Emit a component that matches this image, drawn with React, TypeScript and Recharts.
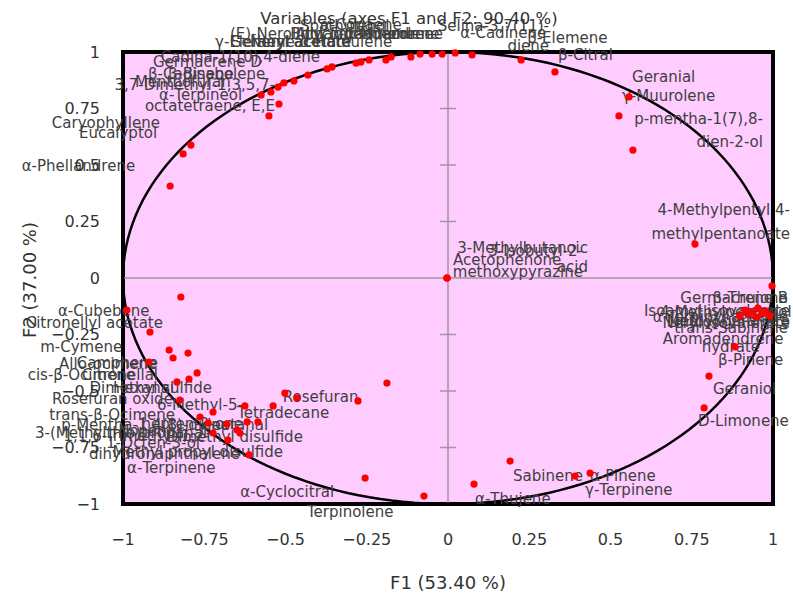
import {
  CartesianGrid,
  ReferenceArea,
  ReferenceLine,
  Scatter,
  ScatterChart,
  XAxis,
  YAxis,
} from "recharts";

// variable names, in the same order as F1 / F2 below
const VARIABLES = [
  // upper-left arc
  "α-Terpineol", "Menthofuran", "β-Cadinene", "β-Bisabolene", "Germacrene D",
  "Cadina-1(10),4-diene", "γ-Elemene", "Geranyl acetate", "Neryl acetate", "α-Humulene",
  "Spathulenol", "(E)-Nerolidol", "Bicyclogermacrene", "δ-Cadinene", "α-Muurolene",
  "Alloaromadendrene", "α-Copaene",
  // upper-right arc
  "α-Cadinene", "Selina-3,7(11)-diene", "β-Elemene", "β-Citral", "Geranial",
  "γ-Muurolene", "p-mentha-1(7),8-dien-2-ol", "4-Methylpentyl 4-methylpentanoate",
  // origin
  "3-Methylbutanoic acid", "Acetophenone", "3-Isobutyl-2-methoxypyrazine",
  // right
  "Germacrene B", "β-Thujone", "4-Methylpentanol", "Isoamyl isovalerate", "Linalool",
  "Neryl isovalerate", "Methyl geranate", "α-Terpinyl acetate", "Aromadendrene",
  "trans-Sabinene hydrate", "β-Pinene", "Geraniol", "D-Limonene",
  // left, upper
  "Caryophyllene", "Eucalyptol", "α-Phellandrene", "Germacrene A",
  "3,7-Dimethyl-1,3,5,7-octatetraene, E,E",
  // left, lower
  "Tricyclene", "α-Cubebene", "Citronellyl acetate", "m-Cymene", "Camphene",
  "Citronellal", "Allo-ocimene", "cis-β-Ocimene", "Hexanal", "Dimethyl sulfide",
  "Rosefuran oxide", "Rosefuran", "Linalool oxide", "6-Methyl-5-hepten-2-one", "Tetradecane",
  "trans-β-Ocimene", "p-Mentha-1,4(8)-diene", "Nonanal", "2-Methylbutanal", "Heptanal",
  "Dimethyl disulfide", "3-(Methylthio)propanal", "Methyl propyl disulfide", "1-Octen-3-ol",
  "1,1,6-Trimethyl-1,2-dihydronaphthalene", "α-Terpinene", "β-Damascenone", "Citronellol",
  // bottom
  "α-Cyclocitral", "Terpinolene", "Sabinene", "α-Thujene", "γ-Terpinene", "α-Pinene",
];

const F1 = [
  -0.575, -0.545, -0.523, -0.505, -0.474,
  -0.431, -0.372, -0.357, -0.283, -0.268,
  -0.243, -0.191, -0.175, -0.114, -0.086,
  -0.049, -0.018,
  0.022, 0.074, 0.225, 0.329, 0.557,
  0.526, 0.569, 0.76,
  -0.003, -0.003, -0.003,
  0.997, 0.978, 0.935, 0.954, 0.914,
  0.966, 0.991, 0.923, 0.898,
  0.948, 0.883, 0.803, 0.788,
  -0.791, -0.815, -0.855, -0.551,
  -0.52,
  -0.822, -0.988, -0.917, -0.858, -0.846,
  -0.8, -0.92, -0.772, -0.797, -0.834,
  -0.825, -0.502, -0.465, -0.625, -0.538,
  -0.723, -0.763, -0.738, -0.68, -0.618,
  -0.585, -0.649, -0.64, -0.723,
  -0.677, -0.612, -0.277, -0.188,
  -0.255, -0.074, 0.191, 0.08, 0.391, 0.437,
];

const F2 = [
  0.81, 0.823, 0.845, 0.863, 0.872,
  0.898, 0.925, 0.934, 0.951, 0.956,
  0.965, 0.965, 0.978, 0.978, 0.991,
  0.991, 0.991,
  0.996, 0.987, 0.965, 0.912, 0.801,
  0.717, 0.566, 0.15,
  0, 0, 0,
  -0.035, -0.146, -0.15, -0.133, -0.142,
  -0.159, -0.168, -0.159, -0.168,
  -0.173, -0.305, -0.434, -0.575,
  0.588, 0.549, 0.407, 0.717,
  0.77,
  -0.084, -0.142, -0.239, -0.319, -0.354,
  -0.332, -0.372, -0.42, -0.447, -0.46,
  -0.54, -0.509, -0.531, -0.566, -0.566,
  -0.593, -0.615, -0.642, -0.646, -0.637,
  -0.637, -0.673, -0.686, -0.686,
  -0.717, -0.783, -0.544, -0.465,
  -0.885, -0.965, -0.81, -0.912, -0.876, -0.863,
];

const TICKS = [-1, -0.75, -0.5, -0.25, 0, 0.25, 0.5, 0.75, 1];
const AXIS_MARKS = [-0.75, -0.5, -0.25, 0.25, 0.5, 0.75];

// label placement: [text, dx, dy (baseline), anchor] relative to the point, in px
type LabelLine = [string, number, number, "start" | "middle" | "end"];
const LABELS: Record<string, LabelLine[]> = {
  "α-Terpineol": [["α-Terpineol", -19, 5, "end"]],
  "Menthofuran": [["Menthofuran", -136, -5, "start"]],
  "β-Cadinene": [["β-Cadinene", -130, -8, "start"]],
  "β-Bisabolene": [["β-Bisabolene", -116, -4, "start"]],
  "Germacrene D": [["Germacrene D", -141, -14, "start"]],
  "Cadina-1(10),4-diene": [["Cadina-1(10),4-diene", 12, -13, "end"]],
  "γ-Elemene": [["γ-Elemene", -112, -22, "start"]],
  "Geranyl acetate": [["Geranyl acetate", -102, -20, "start"]],
  "Neryl acetate": [["Neryl acetate", -106, -16, "start"]],
  "α-Humulene": [["α-Humulene", -61, -15, "start"]],
  "Spathulenol": [["Spathulenol", -69, -29, "start"]],
  "(E)-Nerolidol": [["(E)-Nerolidol", -156, -21, "start"]],
  "Bicyclogermacrene": [["Bicyclogermacrene", -101, -18, "start"]],
  "δ-Cadinene": [["δ-Cadinene", -81, -18, "start"]],
  "α-Muurolene": [["α-Muurolene", -75, -15, "start"]],
  "Alloaromadendrene": [["Alloaromadendrene", 11, -15, "end"]],
  "α-Copaene": [["α-Copaene", -122, -24, "start"]],
  "α-Cadinene": [["α-Cadinene", 5, -15, "start"]],
  "Selina-3,7(11)-diene": [["Selina-3,7(11)-", 77, -24, "end"], ["diene", 77, -4, "end"]],
  "β-Elemene": [["β-Elemene", 6, -17, "start"]],
  "β-Citral": [["β-Citral", 3, -12, "start"]],
  "Geranial": [["Geranial", 3, -15, "start"]],
  "γ-Muurolene": [["γ-Muurolene", 3, -15, "start"]],
  "p-mentha-1(7),8-dien-2-ol": [["p-mentha-1(7),8-", 130, -26, "end"], ["dien-2-ol", 130, -3, "end"]],
  "4-Methylpentyl 4-methylpentanoate": [["4-Methylpentyl 4-", 95, -29, "end"], ["methylpentanoate", 95, -5, "end"]],
  "3-Methylbutanoic acid": [["3-Methylbutanoic", 141, -25, "end"], ["acid", 141, -6, "end"]],
  "Acetophenone": [["Acetophenone", 6, -13, "start"]],
  "3-Isobutyl-2-methoxypyrazine": [["3-Isobutyl-2-", 136, -22, "end"], ["methoxypyrazine", 136, -1, "end"]],
  "Germacrene B": [["Germacrene B", 16, 17, "end"]],
  "β-Thujone": [["β-Thujone", 22, -8, "end"]],
  "4-Methylpentanol": [["4-Methylpentanol", -92, 5, "start"]],
  "Isoamyl isovalerate": [["Isoamyl isovalerate", 32, 8, "end"]],
  "Linalool": [["Linalool", -78, 17, "start"]],
  "Neryl isovalerate": [["Neryl isovalerate", 28, 14, "end"]],
  "Methyl geranate": [["Methyl geranate", 20, 10, "end"]],
  "α-Terpinyl acetate": [["α-Terpinyl acetate", 40, 8, "end"]],
  "Aromadendrene": [["Aromadendrene", -77, 28, "start"]],
  "trans-Sabinene hydrate": [["trans-Sabinene", 32, 16, "end"], ["hydrate", 4, 35, "end"]],
  "β-Pinene": [["β-Pinene", -17, 18, "start"]],
  "Geraniol": [["Geraniol", 4, 18, "start"]],
  "D-Limonene": [["D-Limonene", -6, 18, "start"]],
  "Caryophyllene": [["Caryophyllene", -31, -17, "end"]],
  "Eucalyptol": [["Eucalyptol", -26, -16, "end"]],
  "α-Phellandrene": [["α-Phellandrene", -35, -15, "end"]],
  "3,7-Dimethyl-1,3,5,7-octatetraene, E,E": [["3,7-Dimethyl-1,3,5,7-", -4, -14, "end"], ["octatetraene, E,E", -4, 7, "end"]],
  "α-Cubebene": [["α-Cubebene", -69, 6, "start"]],
  "Citronellyl acetate": [["Citronellyl acetate", 13, -4, "end"]],
  "m-Cymene": [["m-Cymene", -47, 2, "end"]],
  "Camphene": [["Camphene", -15, 10, "end"]],
  "Citronellal": [["Citronellal", -30, 27, "end"]],
  "Allo-ocimene": [["Allo-ocimene", 8, 7, "end"]],
  "cis-β-Ocimene": [["cis-β-Ocimene", -62, 7, "end"]],
  "Hexanal": [["Hexanal", -76, 14, "start"]],
  "Dimethyl sulfide": [["Dimethyl sulfide", 35, 11, "end"]],
  "Rosefuran oxide": [["Rosefuran oxide", -7, 4, "end"]],
  "Rosefuran": [["Rosefuran", -2, 9, "start"]],
  "6-Methyl-5-hepten-2-one": [["6-Methyl-5-", -2, 4, "end"], ["hepten-2-one", -2, 23, "end"]],
  "Tetradecane": [["Tetradecane", -36, 12, "start"]],
  "trans-β-Ocimene": [["trans-β-Ocimene", -38, 8, "end"]],
  "p-Mentha-1,4(8)-diene": [["p-Mentha-1,4(8)-diene", 30, 13, "end"]],
  "Nonanal": [["Nonanal", -28, 13, "end"]],
  "Heptanal": [["Heptanal", 21, 8, "end"]],
  "Dimethyl disulfide": [["Dimethyl disulfide", 45, 20, "end"]],
  "3-(Methylthio)propanal": [["3-(Methylthio)propanal", -202, 8, "start"]],
  "Methyl propyl disulfide": [["Methyl propyl disulfide", 43, 24, "end"]],
  "1-Octen-3-ol": [["1-Octen-3-ol", -13, 15, "end"]],
  "1,1,6-Trimethyl-1,2-dihydronaphthalene": [["1,1,6-Trimethyl-1,2-", -18, 1, "end"], ["dihydronaphthalene", 12, 19, "end"]],
  "α-Terpinene": [["α-Terpinene", -122, 18, "start"]],
  "α-Cyclocitral": [["α-Cyclocitral", -125, 19, "start"]],
  "Terpinolene": [["Terpinolene", -117, 21, "start"]],
  "Sabinene": [["Sabinene", 3, 20, "start"]],
  "α-Thujene": [["α-Thujene", 1, 20, "start"]],
  "γ-Terpinene": [["γ-Terpinene", 10, 19, "start"]],
  "α-Pinene": [["α-Pinene", 0, 8, "start"]],
};

const FONT = "'DejaVu Sans', Verdana, sans-serif";
const TEXT = "#404040";

const points = VARIABLES.map((name, i) => ({ name, x: F1[i], y: F2[i] }));

// unit correlation circle
const circle = Array.from({ length: 181 }, (_, i) => {
  const a = (i / 180) * 2 * Math.PI;
  return { x: Math.cos(a), y: Math.sin(a) };
});

const fmt = (v: number) => String(v).replace("-", "\u2212");

function LabelShape(props: any) {
  const { cx, cy, payload } = props;
  const lines = LABELS[payload?.name] ?? [];
  return (
    <g>
      {lines.map(([t, dx, dy, anchor], i) => (
        <text
          key={i}
          x={cx + dx}
          y={cy + dy}
          textAnchor={anchor}
          fontSize={15}
          fontFamily={FONT}
          fill={TEXT}
        >
          {t}
        </text>
      ))}
    </g>
  );
}

function Dot(props: any) {
  const { cx, cy } = props;
  return <circle cx={cx} cy={cy} r={3.6} fill="#FF0000" />;
}

export default function App() {
  return (
    <div style={{ position: "relative", width: 793, height: 598, background: "#fff" }}>
      <style>{"body{margin:0}"}</style>
      <ScatterChart
        width={793}
        height={598}
        margin={{ top: 52, right: 20, bottom: 54, left: 63 }}
      >
        <CartesianGrid fill="#FFCCFF" fillOpacity={1} horizontal={false} vertical={false} />
        <XAxis
          type="number"
          dataKey="x"
          domain={[-1, 1]}
          ticks={TICKS}
          tickFormatter={fmt}
          height={40}
          tickSize={0}
          tickMargin={30}
          tickLine={false}
          axisLine={false}
          tick={{ fill: "#333", fontSize: 16, fontFamily: FONT }}
        />
        <YAxis
          type="number"
          dataKey="y"
          domain={[-1, 1]}
          ticks={TICKS}
          tickFormatter={fmt}
          width={60}
          tickSize={0}
          tickMargin={23}
          tickLine={false}
          axisLine={false}
          tick={{ fill: "#333", fontSize: 16, fontFamily: FONT }}
        />
        <ReferenceLine x={0} stroke="#9a9a9a" strokeWidth={1.5} />
        <ReferenceLine y={0} stroke="#9a9a9a" strokeWidth={1.5} />
        {AXIS_MARKS.map((t) => (
          <ReferenceLine
            key={t}
            segment={[
              { x: -0.025, y: t },
              { x: 0.025, y: t },
            ]}
            stroke="#9a9a9a"
            strokeWidth={1.5}
          />
        ))}
        <ReferenceArea
          x1={-1}
          x2={1}
          y1={-1}
          y2={1}
          fill="none"
          fillOpacity={0}
          stroke="#000"
          strokeWidth={4}
        />
        <Scatter
          data={circle}
          line={{ stroke: "#000", strokeWidth: 2.5 }}
          lineType="joint"
          shape={() => <g />}
          isAnimationActive={false}
        />
        <Scatter data={points} shape={LabelShape} isAnimationActive={false} />
        <Scatter data={points} shape={Dot} isAnimationActive={false} />
      </ScatterChart>
      <svg
        width={793}
        height={598}
        style={{ position: "absolute", left: 0, top: 0, pointerEvents: "none" }}
      >
        <text x={409} y={24} textAnchor="middle" fontSize={16.5} fontFamily={FONT} fill="#333">
          Variables (axes F1 and F2: 90.40 %)
        </text>
        <text x={448} y={589} textAnchor="middle" fontSize={18} fontFamily={FONT} fill="#333">
          F1 (53.40 %)
        </text>
        <text
          transform="translate(36,280) rotate(-90)"
          textAnchor="middle"
          fontSize={18}
          fontFamily={FONT}
          fill="#333"
        >
          F2 (37.00 %)
        </text>
      </svg>
    </div>
  );
}
